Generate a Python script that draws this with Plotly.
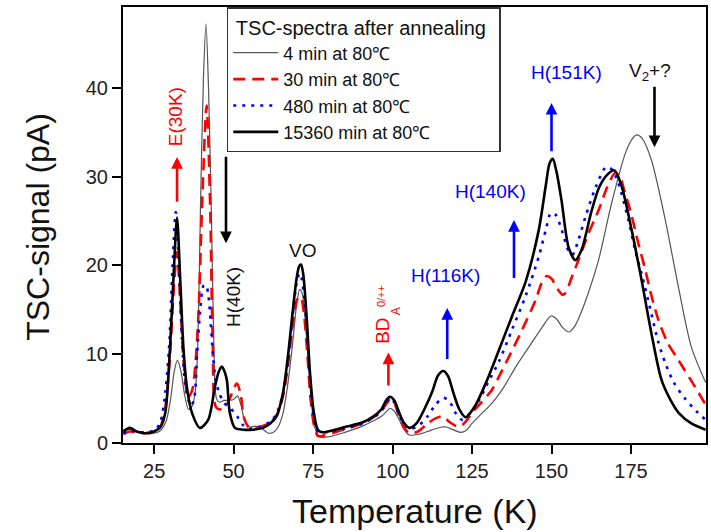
import plotly.graph_objects as go

# ---------------- data ----------------
series_names = ["4 min at 80℃", "30 min at 80℃", "480 min at 80℃", "15360 min at 80℃"]

t_4min = [15.3, 17.3, 19.5, 22, 25, 27, 28.8, 30.2, 31.3, 32.3, 33.3, 34.5, 35.8, 37, 38, 38.8, 39.6,
          40.5, 41.3, 42.1, 43, 43.8, 44.6, 45.5, 47, 48.5, 50, 51.2, 52.3, 53.5, 55, 57, 59, 61, 62.5,
          64, 65.5, 67, 68.5, 69.8, 70.8, 71.6, 72.5, 73.5, 74.5, 75.5, 77, 80, 85, 90.5, 94, 96.5, 98,
          99.2, 100.5, 102, 103.5, 105.3, 108.4, 111, 113.5, 115.5, 117, 119, 121.5, 123.1, 125, 128,
          131.3, 135, 138.8, 143.8, 147, 149.8, 151.5, 153.5, 155.4, 157, 158.5, 161.5, 164.8, 168.9,
          173.3, 175.5, 176.8, 178.5, 181.4, 185.8, 189.9, 194, 198.5]
s_4min = [1.4, 1.5, 1.3, 1.1, 1.1, 1.4, 2.5, 5.0, 8.0, 9.3, 8.3, 5.6, 3.8, 4.2, 6.0, 12.0, 27.0,
          41.0, 47.2, 40.0, 26.0, 11.0, 5.0, 4.6, 4.8, 4.8, 4.9, 5.3, 4.3, 2.5, 1.8, 1.9, 1.6, 1.1, 1.2,
          1.8, 3.3, 6.5, 11.0, 15.5, 17.3, 16.8, 14.0, 9.0, 4.5, 1.8, 0.7, 0.7, 1.2, 1.9, 2.5, 3.0, 3.5,
          3.9, 3.6, 2.7, 1.6, 0.9, 1.0, 1.3, 1.6, 1.8, 1.8, 1.5, 1.2, 1.4, 2.2, 3.3,
          4.5, 6.3, 8.6, 11.3, 13.0, 14.3, 14.0, 13.0, 12.5, 13.0, 14.0, 16.8, 20.6, 27.0,
          32.7, 34.3, 34.7, 34.3, 31.9, 25.1, 17.6, 10.8, 6.8]

t_30min = [15.3, 17.3, 19.5, 22, 25, 27, 28.5, 30, 31.2, 32.2, 33.2, 34.3, 35.7, 37, 38, 39, 40, 41.5,
           42.6, 43.4, 44.5, 46, 47.8, 49.5, 51, 52.2, 53.3, 55, 58, 61.5, 63.5, 65.5, 67, 68.5, 69.8,
           70.8, 71.5, 72.3, 73.2, 74.2, 75.3, 76.5, 78, 81, 85, 90.5, 94, 96.5, 98, 99.2, 100.5, 102,
           103.5, 105.3, 108, 111, 113.7, 116, 117.8, 120.9, 123, 125, 128, 131.3, 133.5, 136.6, 140.7,
           145, 146.9, 148.5, 150, 152, 153.5, 154.4, 156.4, 158.5, 161.5, 164.8, 167.5, 170, 171.5,
           173, 175, 177.3, 179.5, 181.5, 183.6, 186.5, 190, 195.2, 198.5]
s_30min = [1.0, 1.3, 1.2, 1.1, 1.3, 1.9, 4.0, 10.0, 17.5, 21.5, 16.0, 9.0, 5.2, 6.0, 9.0, 15.0, 26.0, 38.0,
           27.0, 12.0, 4.0, 3.8, 4.3, 5.6, 6.7, 5.5, 2.8, 1.7, 1.8, 2.3, 3.1, 5.2, 8.5, 13.0, 16.0,
           16.5, 16.0, 14.0, 10.0, 5.0, 2.0, 0.8, 0.8, 1.1, 1.6, 2.2, 2.9, 3.6, 4.4, 4.9, 4.5, 3.1,
           1.8, 1.1, 1.3, 2.2, 2.8, 3.0, 2.4, 1.8, 2.4, 3.4, 4.6, 6.0, 7.5, 9.7, 12.7,
           16.1, 18.0, 18.8, 18.5, 17.3, 16.7, 16.9, 18.7, 20.6, 23.5, 26.2, 28.8, 30.4, 30.0,
           28.3, 25.9, 22.5, 19.5, 16.5, 13.9, 11.3, 9.3, 6.3, 4.3]

t_480min = [15.3, 17.3, 19.5, 22, 25, 26.8, 28.3, 29.7, 30.8, 31.8, 32.8, 33.8, 35, 36.6, 37.6, 38.5,
            39.5, 40.5, 41.3, 42.1, 42.8, 43.6, 44.4, 45.5, 47, 48.8, 50, 51.5, 53, 55, 58, 61.5, 63.5,
            65.5, 67, 68.5, 69.8, 70.7, 71.4, 72.2, 73.2, 74.2, 75.3, 76.5, 78, 81, 85, 90.5, 94, 96.5,
            98, 99.2, 100.5, 102, 103.5, 105.3, 108, 111, 113.5, 116, 118, 120, 122, 124.5, 127.2, 130,
            133.5, 137.5, 141.9, 146, 148.2, 149.8, 151.3, 153.2, 155.4, 156.6, 158.5, 160.7, 163.9,
            167.2, 169, 171, 174.2, 176.4, 178.3, 181.4, 183.5, 185.8, 188.5, 192, 195.5, 198.5]
s_480min = [1.1, 1.4, 1.3, 1.2, 1.4, 2.2, 5.0, 10.8, 20.0, 26.0, 20.0, 11.5, 6.0, 4.2, 5.0, 10.0,
            15.0, 17.7, 17.8, 16.5, 13.5, 9.5, 7.0, 5.6, 4.5, 4.0, 3.5, 2.8, 2.0, 1.6, 1.8, 2.4, 3.3,
            5.5, 9.0, 14.0, 18.0, 19.1, 18.5, 16.5, 12.0, 6.5, 2.5, 1.3, 1.2, 1.3, 1.6, 2.2, 2.9, 3.6,
            4.5, 5.0, 4.6, 3.2, 2.2, 1.6, 1.9, 3.0, 4.3, 5.1, 4.6, 3.3, 2.6, 3.4, 4.8, 6.8,
            9.2, 12.7, 16.6, 21.0, 24.0, 25.9, 25.7, 24.0, 21.6, 21.2, 22.9, 25.5, 28.8,
            31.1, 30.8, 29.3, 25.1, 21.6, 19.1, 14.6, 11.5, 9.0, 6.8, 5.0, 3.6, 2.6]

t_15360min = [15.3, 17.3, 19.5, 22, 25, 27, 28.5, 30, 31.2, 32.2, 33.2, 34.2, 35.3, 36.9, 39.4, 42,
              44.1, 45.3, 46.3, 47.2, 47.9, 48.8, 50.4, 53, 56, 59.2, 61.5, 63.5, 65.5, 67, 68.5, 69.8,
              70.6, 71.2, 71.9, 73, 74, 75.2, 76.5, 78, 81, 85, 90.5, 94, 96.5, 98, 99.2, 100.5, 102,
              103.5, 105.3, 107.5, 110, 112.5, 114.3, 116, 117.5, 119, 121, 123, 126, 129.4, 133.5,
              137.5, 141.9, 146, 148.2, 149.4, 150.4, 151.6, 153.2, 155.4, 157.5, 159.5, 162.5, 165,
              167.5, 169.8, 172, 175.2, 178.3, 181.4, 184.6, 187.5, 190, 194, 198.5]
s_15360min = [1.3, 1.7, 1.3, 1.1, 1.3, 1.8, 3.4, 10.8, 19.5, 25.4, 18.4, 10.8, 6.3, 3.4, 1.7, 2.6,
              6.3, 8.0, 8.6, 8.0, 7.0, 3.4, 1.7, 1.5, 1.5, 1.7, 2.2, 3.0, 5.6, 9.5, 14.5, 18.5,
              19.9, 20.1, 19.0, 14.0, 8.0, 3.5, 1.5, 1.2, 1.4, 1.8, 2.3, 3.0, 3.8, 4.8, 5.2, 4.8, 3.5,
              2.3, 1.7, 2.2, 3.8, 5.8, 7.6, 8.1, 7.5, 5.8, 3.8, 2.9, 4.2, 6.8, 10.5,
              14.2, 18.2, 24.0, 29.0, 31.5, 32.0, 30.5, 27.2, 22.0, 20.6, 21.8, 26.0, 28.8,
              30.2, 30.7, 29.0, 24.0, 18.4, 12.4, 7.1, 4.8, 3.4, 2.2, 1.5]

x_ticks = [25, 50, 75, 100, 125, 150, 175]
y_ticks = [0, 10, 20, 30, 40]

# ---------------- figure ----------------
FONT = "Arial, Liberation Sans, Helvetica, sans-serif"
fig = go.Figure()

styles = [
    dict(color="#555555", width=1.2, dash="solid"),
    dict(color="#ff0000", width=2.6, dash="12px,7px"),
    dict(color="#0000ff", width=2.6, dash="3px,6px"),
    dict(color="#000000", width=2.6, dash="solid"),
]
all_t = [t_4min, t_30min, t_480min, t_15360min]
all_s = [s_4min, s_30min, s_480min, s_15360min]
for name, t, s, st in zip(series_names, all_t, all_s, styles):
    fig.add_trace(go.Scatter(x=t, y=s, mode="lines", name=name,
                             line=dict(shape="spline", smoothing=0.8, **st)))

def arrow(x, y, ax, ay, color):
    fig.add_annotation(x=x, y=y, ax=ax, ay=ay, xref="x", yref="y", axref="x", ayref="y",
                       text="", showarrow=True, arrowhead=2, arrowsize=0.9, arrowwidth=2.6,
                       arrowcolor=color, standoff=0, startstandoff=0)

def label(x, y, text, color, size=19, angle=0):
    fig.add_annotation(x=x, y=y, xref="x", yref="y", text=text, showarrow=False,
                       textangle=angle, xanchor="center", yanchor="middle",
                       font=dict(family=FONT, size=size, color=color))

# annotations
arrow(32.2, 32.2, 32.2, 27.0, "#ff0000")
label(31.6, 36.7, "E(30K)", "#ff0000", 19, -90)
arrow(47.6, 22.5, 47.6, 32.4, "#000000")
label(50.0, 16.4, "H(40K)", "#111111", 19, -90)
label(71.7, 21.7, "VO", "#111111", 19)
arrow(98.7, 10.2, 98.7, 6.3, "#ff0000")
label(96.6, 12.6, "BD", "#ff0000", 19, -90)
label(101.0, 14.8, "A", "#ff0000", 12, -90)
label(96.2, 16.6, "0/++", "#ff0000", 11, -90)
arrow(117.2, 15.2, 117.2, 9.3, "#0000ff")
label(116.8, 18.9, "H(116K)", "#0000ff", 19)
arrow(138.2, 25.1, 138.2, 18.4, "#0000ff")
label(130.8, 28.3, "H(140K)", "#0000ff", 19)
arrow(150.0, 38.3, 150.0, 32.7, "#0000ff")
label(154.8, 41.7, "H(151K)", "#0000ff", 19)
arrow(182.4, 33.3, 182.4, 40.3, "#000000")
label(181.1, 41.8, "V<sub>2</sub>+?", "#111111", 19)

# axis titles
fig.add_annotation(x=0.5, y=-0.157, xref="paper", yref="paper", text="Temperature (K)",
                   showarrow=False, xanchor="center", yanchor="middle",
                   font=dict(family=FONT, size=34, color="#111111"))
fig.add_annotation(x=-0.145, y=0.497, xref="paper", yref="paper", text="TSC-signal (pA)",
                   showarrow=False, textangle=-90, xanchor="center", yanchor="middle",
                   font=dict(family=FONT, size=32, color="#111111"))

axis_common = dict(showgrid=False, zeroline=False, showline=True, linecolor="black", linewidth=2,
                   mirror=True, ticks="outside", ticklen=9, tickwidth=2, tickcolor="black",
                   tickfont=dict(family=FONT, size=20, color="#222222"))
fig.update_xaxes(range=[15.2, 198.6], tickvals=x_ticks, ticktext=[str(v) for v in x_ticks],
                 **axis_common)
fig.update_yaxes(range=[0, 49.1], tickvals=y_ticks, ticktext=[str(v) for v in y_ticks],
                 **axis_common)

fig.update_layout(
    width=711, height=532,
    margin=dict(l=123, r=3, t=7, b=89),
    plot_bgcolor="white", paper_bgcolor="white",
    font=dict(family=FONT, color="#111111"),
    legend=dict(x=0.178, y=1.0, xanchor="left", yanchor="top",
                bgcolor="white", bordercolor="#333333", borderwidth=1.5,
                font=dict(family=FONT, size=18, color="#111111"),
                title=dict(text="\u00a0TSC-spectra after annealing\u00a0\u00a0",
                           font=dict(family=FONT, size=20, color="#111111")),
                itemwidth=45, tracegroupgap=0),
    showlegend=True,
)

fig.write_html("out.html", config={"displayModeBar": False},
               post_script="document.body.style.margin='0';document.body.style.padding='0';")
